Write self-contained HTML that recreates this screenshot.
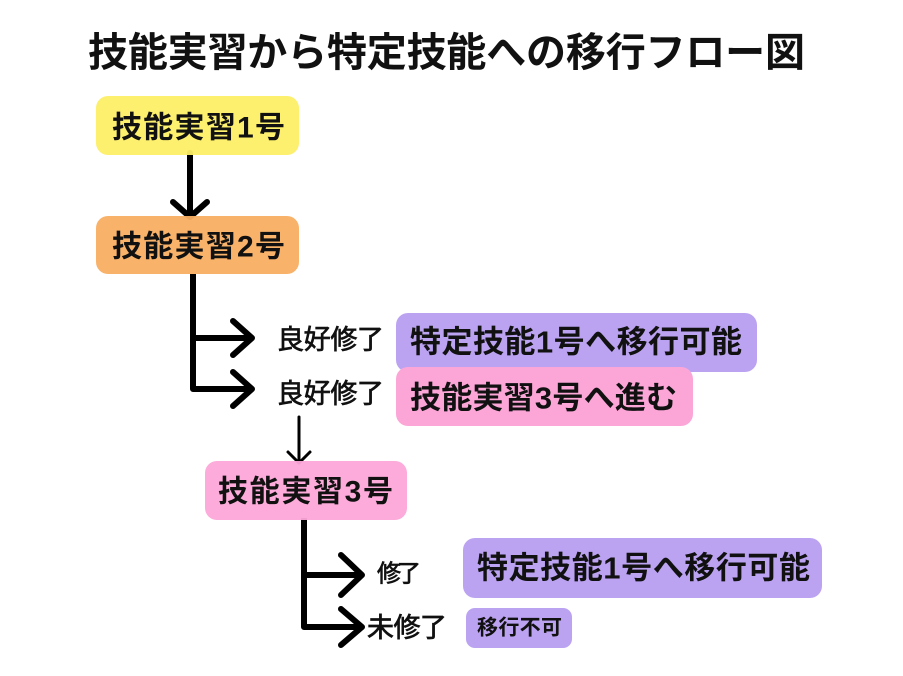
<!DOCTYPE html>
<html>
<head>
<meta charset="utf-8">
<style>
  html, body { margin: 0; padding: 0; background: #ffffff; }
  body { width: 903px; height: 676px; overflow: hidden; }
  svg { display: block; }
  text { font-family: "Liberation Sans", "Noto Sans CJK JP", sans-serif; fill: #111111; }
  .b { font-weight: 700; }
  .m { font-weight: 400; stroke: #111111; stroke-width: 0.7px; }
</style>
</head>
<body>
<svg width="903" height="676" viewBox="0 0 903 676" xmlns="http://www.w3.org/2000/svg">
  <rect x="0" y="0" width="903" height="676" fill="#ffffff"/>

  <!-- Title -->
  <text class="b" x="88" y="53" font-size="40" dominant-baseline="central" textLength="717" lengthAdjust="spacing">技能実習から特定技能への移行フロー図</text>

  <!-- connectors -->
  <g stroke="#000" fill="none" stroke-width="6" stroke-linecap="round" stroke-linejoin="round">
    <line x1="190" y1="153" x2="190" y2="214"/>
    <polyline points="173,202 190,217 207,202"/>
    <polyline points="193,274 193,389 250,389" stroke-linecap="butt"/>
    <line x1="193" y1="338" x2="250" y2="338"/>
    <polyline points="233,321 252,338 233,355"/>
    <polyline points="233,372 252,389 233,406"/>
    <polyline points="304,518 304,627 360,627" stroke-linecap="butt"/>
    <line x1="304" y1="575" x2="360" y2="575"/>
    <polyline points="341,555 362,575 341,595"/>
    <polyline points="341,609 362,627 341,645"/>
  </g>
  <g stroke="#000" fill="none" stroke-width="3" stroke-linecap="round" stroke-linejoin="round">
    <line x1="299" y1="417" x2="299" y2="461"/>
    <polyline points="288,452 299,463 310,452"/>
  </g>

  <!-- Box 1 -->
  <rect x="96" y="96" width="203" height="59" rx="12" fill="#FCEF66" fill-opacity="0.95"/>
  <text class="b" x="112" y="128" font-size="30" dominant-baseline="central" textLength="173" lengthAdjust="spacing">技能実習1号</text>

  <!-- Box 2 -->
  <rect x="96" y="216" width="203" height="58" rx="12" fill="#F9AE62" fill-opacity="0.95"/>
  <text class="b" x="112" y="247" font-size="30" dominant-baseline="central" textLength="173" lengthAdjust="spacing">技能実習2号</text>

  <!-- Labels -->
  <text class="m" x="277" y="340" font-size="27" dominant-baseline="central" textLength="107" lengthAdjust="spacing">良好修了</text>
  <text class="m" x="277" y="394" font-size="27" dominant-baseline="central" textLength="107" lengthAdjust="spacing">良好修了</text>

  <!-- Purple box 1 -->
  <rect x="396" y="313" width="361" height="59" rx="12" fill="#BBA3F2"/>
  <text class="b" x="410" y="342" font-size="31" dominant-baseline="central" textLength="332" lengthAdjust="spacing">特定技能1号へ移行可能</text>

  <!-- Pink box -->
  <rect x="396" y="367" width="297" height="59" rx="12" fill="#FCA6D8"/>
  <text class="b" x="410" y="398" font-size="31" dominant-baseline="central" textLength="267" lengthAdjust="spacing">技能実習3号へ進む</text>

  <!-- Box 3 -->
  <rect x="205" y="461" width="202" height="59" rx="12" fill="#FCA6D8" fill-opacity="0.95"/>
  <text class="b" x="218" y="492" font-size="30" dominant-baseline="central" textLength="175" lengthAdjust="spacing">技能実習3号</text>

  <!-- Labels 2 -->
  <text class="m" x="377" y="574" font-size="24" dominant-baseline="central" textLength="44" lengthAdjust="spacing">修了</text>
  <text class="m" x="367" y="628" font-size="27" dominant-baseline="central" textLength="80" lengthAdjust="spacing">未修了</text>

  <!-- Purple big -->
  <rect x="463" y="538" width="359" height="60" rx="12" fill="#BBA3F2"/>
  <text class="b" x="477" y="568" font-size="31" dominant-baseline="central" textLength="333" lengthAdjust="spacing">特定技能1号へ移行可能</text>

  <!-- Purple small -->
  <rect x="466" y="608" width="106" height="40" rx="9" fill="#BBA3F2"/>
  <text class="b" x="477" y="628" font-size="21" dominant-baseline="central" textLength="85" lengthAdjust="spacing">移行不可</text>
</svg>
</body>
</html>
